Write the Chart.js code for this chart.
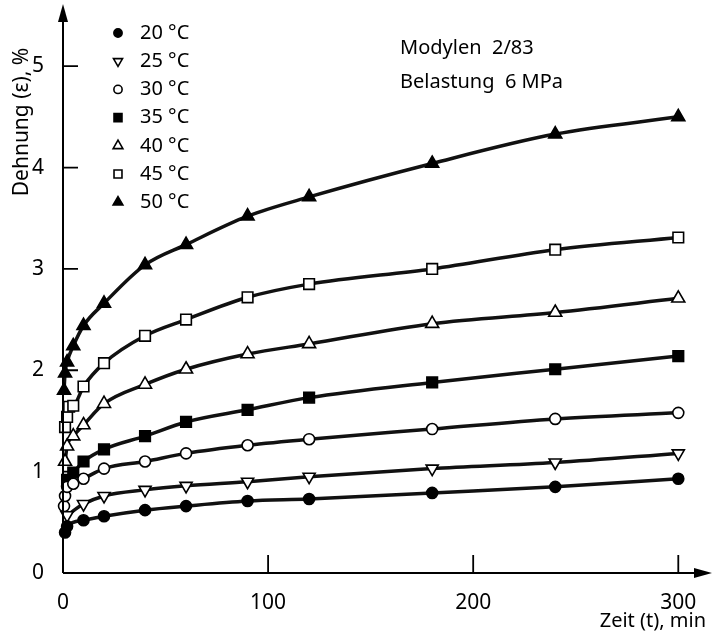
<!DOCTYPE html>
<html>
<head>
<meta charset="utf-8">
<script src="https://cdn.jsdelivr.net/npm/chart.js@4.4.0/dist/chart.umd.min.js"></script>
<style>
  html, body { margin: 0; padding: 0; background: #fff; }
  #wrap { width: 712px; height: 641px; }
</style>
</head>
<body>
<div id="wrap"><canvas id="kriech" width="712" height="641"></canvas></div>
<script>
// Messzeiten in min (null = kein Messpunkt)
const zeit = [0.5, 1, 2, 3, 5, 10, 20, 40, 60, 90, 120, 180, 240, 300];
const temperaturen = ['20 °C', '25 °C', '30 °C', '35 °C', '40 °C', '45 °C', '50 °C'];

const dehnung20 = [null, 0.40, 0.46, null, null, 0.52, 0.56, 0.62, 0.66, 0.71, 0.73, 0.79, 0.85, 0.93];
const dehnung25 = [null, null, 0.57, null, null, 0.68, 0.76, 0.82, 0.86, 0.90, 0.95, 1.03, 1.09, 1.18];
const dehnung30 = [0.66, 0.76, 0.85, null, 0.88, 0.93, 1.03, 1.10, 1.18, 1.26, 1.32, 1.42, 1.52, 1.58];
const dehnung35 = [null, null, 0.92, null, 0.99, 1.10, 1.22, 1.35, 1.49, 1.61, 1.73, 1.88, 2.01, 2.14];
const dehnung40 = [null, 1.10, 1.25, null, 1.35, 1.46, 1.67, 1.86, 2.01, 2.16, 2.26, 2.46, 2.57, 2.71];
const dehnung45 = [null, 1.44, 1.54, 1.64, 1.65, 1.84, 2.07, 2.34, 2.50, 2.72, 2.85, 3.00, 3.19, 3.31];
const dehnung50 = [1.80, 1.97, 2.08, null, 2.24, 2.44, 2.66, 3.04, 3.24, 3.52, 3.71, 4.04, 4.33, 4.50];

const xTicks = [0, 100, 200, 300];
const yTicks = [0, 1, 2, 3, 4, 5];

const reihen = [dehnung20, dehnung25, dehnung30, dehnung35, dehnung40, dehnung45, dehnung50];

// Symbole wie im Original
const symbole = [
    { style: 'circle',   fill: '#000', r: 5.5, rot: 0 },
    { style: 'triangle', fill: '#fff', r: 7,   rot: 180 },
    { style: 'circle',   fill: '#fff', r: 5.5, rot: 0 },
    { style: 'rect',     fill: '#000', r: 7.5, rot: 0 },
    { style: 'triangle', fill: '#fff', r: 7.5, rot: 0 },
    { style: 'rect',     fill: '#fff', r: 7.5, rot: 0 },
    { style: 'triangle', fill: '#000', r: 7.5, rot: 0 }
];

const FONT = '"Noto Sans", "DejaVu Sans", sans-serif';

const datasets = reihen.map((werte, i) => ({
    label: temperaturen[i],
    data: zeit.map((t, k) => ({ x: t, y: werte[k] })).filter(p => p.y !== null),
    borderColor: '#111',
    borderWidth: 3.5,
    cubicInterpolationMode: 'monotone',
    pointStyle: symbole[i].style,
    pointRotation: symbole[i].rot,
    pointRadius: symbole[i].r,
    pointBackgroundColor: symbole[i].fill,
    pointBorderColor: '#000',
    pointBorderWidth: 1.6,
    clip: false
}));

const achsen = {
    id: 'achsen',
    afterDraw(chart) {
        const ctx = chart.ctx;
        const a = chart.chartArea;
        const xs = chart.scales.x, ys = chart.scales.y;
        ctx.save();
        ctx.strokeStyle = '#000';
        ctx.fillStyle = '#000';
        ctx.lineWidth = 2;
        // Achsenlinien
        ctx.beginPath();
        ctx.moveTo(a.left, a.bottom);
        ctx.lineTo(a.left, 16);
        ctx.moveTo(a.left, a.bottom);
        ctx.lineTo(700, a.bottom);
        ctx.stroke();
        // Pfeilspitzen
        ctx.beginPath();
        ctx.moveTo(a.left, 4);
        ctx.lineTo(a.left - 5, 22);
        ctx.lineTo(a.left + 5, 22);
        ctx.closePath();
        ctx.fill();
        ctx.beginPath();
        ctx.moveTo(712, a.bottom);
        ctx.lineTo(694, a.bottom - 5);
        ctx.lineTo(694, a.bottom + 5);
        ctx.closePath();
        ctx.fill();
        // Teilstriche nach innen
        ctx.lineWidth = 1.8;
        ctx.beginPath();
        yTicks.forEach(v => {
            if (v === 0) return;
            const y = ys.getPixelForValue(v);
            ctx.moveTo(a.left, y);
            ctx.lineTo(a.left + 15, y);
        });
        xTicks.forEach(v => {
            if (v === 0) return;
            const x = xs.getPixelForValue(v);
            ctx.moveTo(x, a.bottom);
            ctx.lineTo(x, a.bottom - 18);
        });
        ctx.stroke();

        // Legende
        ctx.font = '20px ' + FONT;
        ctx.textBaseline = 'middle';
        ctx.textAlign = 'left';
        temperaturen.forEach((txt, i) => {
            const y = 33 + i * 28.2;
            const s = symbole[i];
            ctx.fillStyle = s.fill;
            ctx.strokeStyle = '#000';
            ctx.lineWidth = 1.6;
            Chart.helpers.drawPoint(ctx, {
                pointStyle: s.style, rotation: s.rot, radius: s.r * 0.75, borderWidth: 1.6
            }, 118, y);
            ctx.fillStyle = '#000';
            ctx.fillText(txt, 140, y);
        });

        // Beschriftung oben rechts
        ctx.font = '20px ' + FONT;
        ctx.fillText('Modylen  2/83', 400, 48);
        ctx.fillText('Belastung  6 MPa', 400, 82);

        // Achsentitel
        ctx.textAlign = 'right';
        ctx.fillText('Zeit (t), min', 706, 621);
        ctx.font = '21px ' + FONT;
        ctx.translate(22, 122);
        ctx.rotate(-Math.PI / 2);
        ctx.textAlign = 'center';
        ctx.fillText('Dehnung (ε), %', 0, 0);
        ctx.restore();
    }
};

new Chart(document.getElementById('kriech').getContext('2d'), {
    type: 'line',
    data: { datasets: datasets },
    options: {
        responsive: false,
        animation: false,
        layout: { padding: { top: 13, right: 6, left: 0, bottom: 0 } },
        plugins: {
            legend: { display: false },
            tooltip: { enabled: false }
        },
        scales: {
            x: {
                type: 'linear',
                min: 0,
                max: 312,
                grid: { display: false },
                border: { display: false },
                afterBuildTicks: s => { s.ticks = xTicks.map(v => ({ value: v })); },
                afterFit: s => { s.height = 68; },
                ticks: { color: '#000', padding: 9, maxRotation: 0, font: { family: FONT, size: 21 } }
            },
            y: {
                min: 0,
                max: 5.42,
                grid: { display: false },
                border: { display: false },
                afterBuildTicks: s => { s.ticks = yTicks.map(v => ({ value: v })); },
                afterFit: s => { s.width = 63; },
                ticks: { color: '#000', padding: 11, font: { family: FONT, size: 21 } }
            }
        }
    },
    plugins: [achsen]
});
</script>
</body>
</html>
